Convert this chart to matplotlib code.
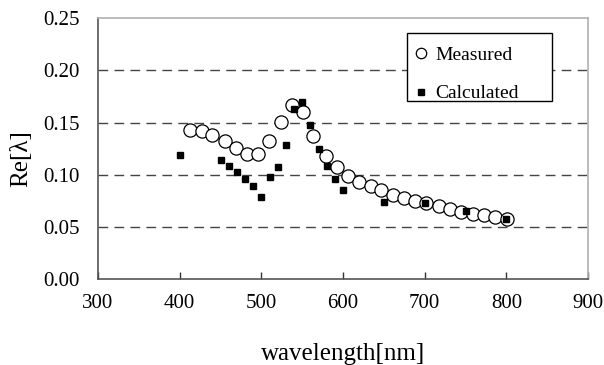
import matplotlib
matplotlib.use('Agg')
import matplotlib.pyplot as plt
from matplotlib.patches import Rectangle

# Measured (open circles)
wl_measured = [413, 427, 440, 455, 469, 482, 496, 509, 524, 538, 551, 563, 579, 593, 606,
               620, 634, 647, 661, 675, 688, 702, 717, 731, 745, 759, 773, 786, 801]
re_measured = [0.143, 0.142, 0.138, 0.132, 0.126, 0.120, 0.120, 0.132, 0.151, 0.167, 0.160,
               0.137, 0.118, 0.107, 0.099, 0.093, 0.089, 0.085, 0.081, 0.078, 0.075, 0.073,
               0.070, 0.067, 0.064, 0.062, 0.061, 0.059, 0.058]

# Calculated (filled squares)
wl_calc = [400, 450, 460, 470, 480, 490, 500, 510, 520, 530, 540, 550, 560, 570, 580,
           590, 600, 650, 700, 750, 800]
re_calc = [0.119, 0.114, 0.108, 0.103, 0.096, 0.089, 0.079, 0.098, 0.107, 0.128, 0.163,
           0.170, 0.148, 0.125, 0.108, 0.096, 0.085, 0.074, 0.073, 0.065, 0.058]

plt.rcParams['font.family'] = ['Liberation Serif', 'DejaVu Serif']

fig = plt.figure(figsize=(6.04, 3.65), dpi=100)
ax = fig.add_axes([0.1623, 0.2356, 0.8112, 0.7144])

ax.plot(wl_measured, re_measured, 'o', mfc='white', mec='black', mew=0.9, ms=9.5,
        label='Measured', zorder=3)
ax.plot(wl_calc, re_calc, 's', color='black', ms=5, label='Calculated', zorder=4)

ax.set_xlim(300, 900)
ax.set_ylim(0, 0.25)
ax.set_xticks(range(300, 901, 100))
ax.set_yticks([0, 0.05, 0.10, 0.15, 0.20, 0.25])
ax.set_yticklabels(['0.00', '0.05', '0.10', '0.15', '0.20', '0.25'])

for yv in [0.05, 0.10, 0.15, 0.20]:
    ax.axhline(yv, color='#444444', lw=1, dashes=(7, 4.5), zorder=1)

for s in ['left', 'bottom']:
    ax.spines[s].set_color('#555555')
    ax.spines[s].set_linewidth(1.2)
for s in ['top', 'right']:
    ax.spines[s].set_color('#b0b0b0')
    ax.spines[s].set_linewidth(1.2)

ax.tick_params(axis='x', direction='in', length=5, width=1, color='#333333',
               labelsize=15, pad=11)
ax.tick_params(axis='y', direction='in', length=0, labelsize=15, pad=13)

ax.set_xlabel('wavelength[nm]', fontsize=18)
ax.xaxis.set_label_coords(0.5, -0.245)
ax.set_ylabel('Re[λ]', fontsize=18)
ax.yaxis.set_label_coords(-0.135, 0.46)

# legend frame drawn separately (entries sit low-left inside a wide box)
box = Rectangle((0.6306, 0.682), 0.296, 0.2605, transform=ax.transAxes,
                fill=True, facecolor='white', edgecolor='black', lw=1, zorder=5)
ax.add_patch(box)
leg = ax.legend(loc='upper left', bbox_to_anchor=(0.643, 0.893), fontsize=14,
                frameon=False, borderpad=0, labelspacing=1.08,
                handletextpad=0.33, handlelength=0.8, borderaxespad=0)
leg.set_zorder(6)
leg.legend_handles[0].set_markersize(7.5)
leg.legend_handles[1].set_markersize(5)

plt.savefig('out.png', dpi=100)
